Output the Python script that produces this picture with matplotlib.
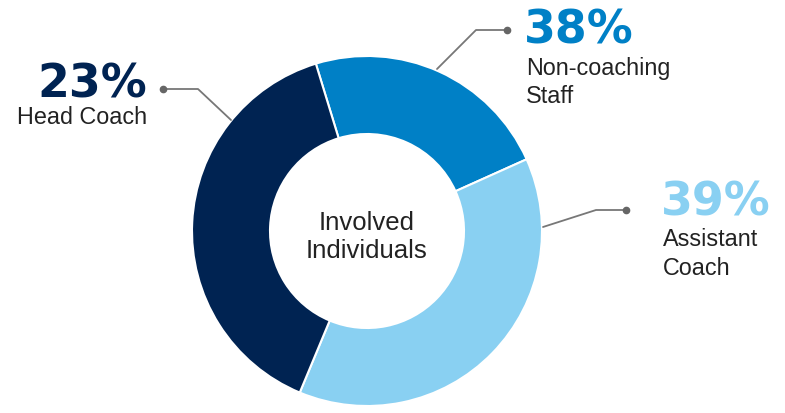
import matplotlib
matplotlib.use("Agg")
import matplotlib.pyplot as plt

# wedge sizes as drawn, clockwise from the top-left boundary
wedge_sizes = [23, 38, 39]
wedge_colors = ["#0080c6", "#89d0f2", "#002352"]

# callout labels
pct_labels = ["23%", "38%", "39%"]
names = ["Head Coach", "Non-coaching\nStaff", "Assistant\nCoach"]
pct_colors = ["#002352", "#0080c6", "#89d0f2"]
center_text = "Involved\nIndividuals"

W, H = 785, 413
fig = plt.figure(figsize=(W/100, H/100), dpi=100)
ax = fig.add_axes([0, 0, 1, 1])

cx, cy = 367, H - 231
R = 175
ax.pie(wedge_sizes, colors=wedge_colors, startangle=107, counterclock=False,
       center=(cx, cy), radius=R,
       wedgeprops=dict(width=78, edgecolor="white", linewidth=1.5))
ax.set_xlim(0, W)
ax.set_ylim(0, H)
ax.set_aspect("equal")
ax.axis("off")

ax.text(cx, H - 237, center_text, ha="center", va="center", fontsize=18.5,
        family="Liberation Sans", color="#222222", linespacing=1.22)

# leader lines (pixel coords: edge point, elbow, dot)
leaders = [[(231, 120), (198, 89), (163, 89)],
           [(437, 69), (476, 30), (507, 30)],
           [(543, 227), (596, 210), (626, 210)]]
for pts in leaders:
    xs = [p[0] for p in pts]
    ys = [H - p[1] for p in pts]
    ax.plot(xs, ys, color="#777777", lw=1.3, solid_capstyle="round")
    ax.plot(xs[-1], ys[-1], "o", color="#666666", ms=4.5)

fs = 16.8
# Head Coach (right aligned)
ax.text(147, H - 97, pct_labels[0], ha="right", va="baseline", fontsize=33,
        fontweight="bold", color=pct_colors[0], family="DejaVu Sans")
ax.text(147, H - 124, names[0], ha="right", va="baseline", fontsize=fs,
        color="#222222", family="Liberation Sans")
# Non-coaching Staff
ax.text(524, H - 43, pct_labels[1], ha="left", va="baseline", fontsize=33,
        fontweight="bold", color=pct_colors[1], family="DejaVu Sans")
ax.text(526, H - 75, names[1].split("\n")[0], ha="left", va="baseline",
        fontsize=fs, color="#222222", family="Liberation Sans")
ax.text(526, H - 103, names[1].split("\n")[1], ha="left", va="baseline",
        fontsize=fs, color="#222222", family="Liberation Sans")
# Assistant Coach
ax.text(661, H - 216, pct_labels[2], ha="left", va="baseline", fontsize=33,
        fontweight="bold", color=pct_colors[2], family="DejaVu Sans")
ax.text(663, H - 246, names[2].split("\n")[0], ha="left", va="baseline",
        fontsize=fs, color="#222222", family="Liberation Sans")
ax.text(663, H - 275, names[2].split("\n")[1], ha="left", va="baseline",
        fontsize=fs, color="#222222", family="Liberation Sans")

fig.savefig("out.png", dpi=100)
